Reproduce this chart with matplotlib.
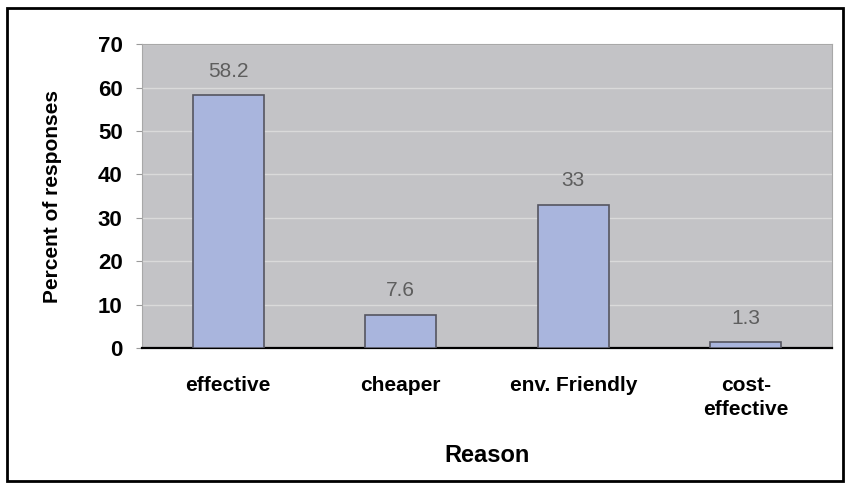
import matplotlib.pyplot as plt
import matplotlib.patches as mpatches

# survey results
reasons = ['effective', 'cheaper', 'env. Friendly', 'cost-\neffective']
percent = [58.2, 7.6, 33, 1.3]
value_labels = ['58.2', '7.6', '33', '1.3']
yticks = [0, 10, 20, 30, 40, 50, 60, 70]

plt.rcParams['font.family'] = ['Liberation Sans', 'DejaVu Sans']

fig = plt.figure(figsize=(8.48, 4.87), dpi=100)
ax = fig.add_axes([0.1675, 0.2854, 0.8137, 0.624])
ax.set_facecolor('#c3c3c6')

x = range(len(reasons))
ax.bar(x, percent, width=0.41, color='#a9b5dd', edgecolor='#555560', linewidth=1.2, zorder=3)

for xi, v, lab in zip(x, percent, value_labels):
    ax.text(xi, v + 5.6, lab, ha='center', va='center', fontsize=15, color='#5e5e5e', zorder=4)

ax.set_xlim(-0.5, len(reasons) - 0.5)
ax.set_ylim(0, 70)
ax.set_yticks(yticks)
ax.set_yticklabels([str(t) for t in yticks], fontsize=16, fontweight='bold')
ax.set_xticks(list(x))
ax.set_xticklabels(reasons, fontsize=15, fontweight='bold', linespacing=1.35)
ax.tick_params(axis='x', length=0, pad=20)
ax.tick_params(axis='y', length=4, color='#9a9a9a', pad=10)

ax.grid(axis='y', color='#dadada', linewidth=1, zorder=0)
for s in ['top', 'right', 'left']:
    ax.spines[s].set_color('#a8a8a8')
ax.spines['bottom'].set_color('black')
ax.spines['bottom'].set_linewidth(1.6)

ax.set_ylabel('Percent of responses', fontsize=15, fontweight='bold', labelpad=26,
              family=['Liberation Sans Narrow', 'Liberation Sans'])
ax.set_xlabel('Reason', fontsize=17, fontweight='bold', labelpad=18)

# frame around the whole chart
fig.patches.append(mpatches.Rectangle((0.008, 0.012), 0.986, 0.972, transform=fig.transFigure,
                                      fill=False, edgecolor='black', linewidth=2))

fig.savefig('out.png', dpi=100)
